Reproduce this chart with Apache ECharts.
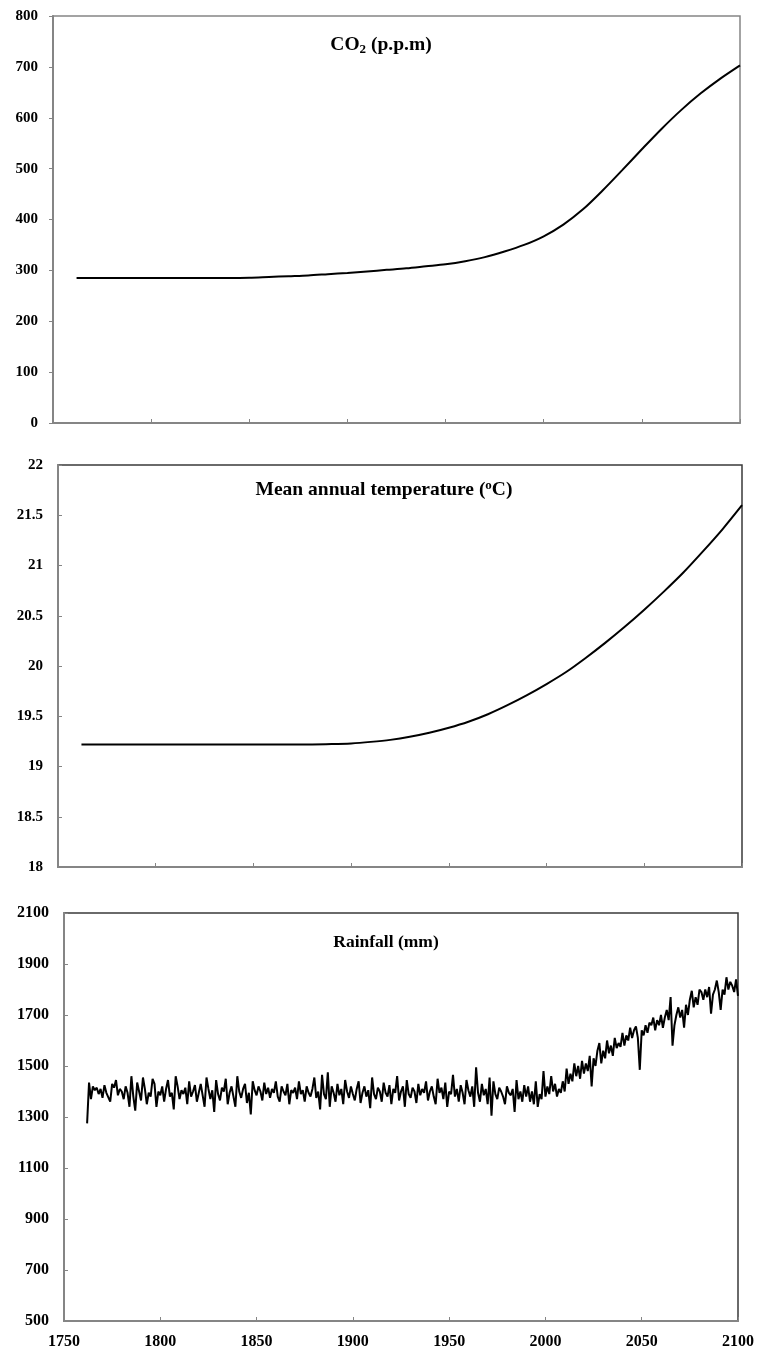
<!DOCTYPE html>
<html>
<head>
<meta charset="utf-8">
<script src="https://cdn.jsdelivr.net/npm/echarts@6/dist/echarts.min.js"></script>
<style>
  html, body { margin: 0; padding: 0; background: #ffffff; }
  #chart { width: 757px; height: 1352px; }
</style>
</head>
<body>
<div id="chart"></div>
<script>
// ---- data ----
const yearTicks = [1750, 1800, 1850, 1900, 1950, 2000, 2050, 2100];

const co2Years  = [1762, 1770, 1780, 1790, 1800, 1810, 1820, 1830, 1840, 1850, 1860, 1870, 1880, 1890, 1900, 1910, 1920, 1930, 1940, 1950, 1960, 1970, 1980, 1990, 2000, 2010, 2020, 2030, 2040, 2050, 2060, 2070, 2080, 2090, 2100];
const co2Values = [285, 285, 285, 285, 285, 285, 285, 285, 285, 285.5, 287, 288.5, 290, 292.5, 295, 298, 301, 304, 308, 312, 318, 326, 337, 350, 367, 390, 420, 457, 497, 538, 578, 615, 648, 677, 703];

const tempYears  = [1762, 1770, 1780, 1790, 1800, 1810, 1820, 1830, 1840, 1850, 1860, 1870, 1880, 1890, 1900, 1910, 1920, 1930, 1940, 1950, 1960, 1970, 1980, 1990, 2000, 2010, 2020, 2030, 2040, 2050, 2060, 2070, 2080, 2090, 2100];
const tempValues = [19.22, 19.22, 19.22, 19.22, 19.22, 19.22, 19.22, 19.22, 19.22, 19.22, 19.22, 19.22, 19.22, 19.223, 19.23, 19.245, 19.265, 19.295, 19.335, 19.385, 19.445, 19.52, 19.61, 19.71, 19.82, 19.94, 20.08, 20.23, 20.39, 20.56, 20.74, 20.93, 21.14, 21.36, 21.60];

// annual rainfall, one value per year from rainStartYear
const rainStartYear = 1762;
const rainValues = [
  1275, 1435, 1370, 1420, 1405, 1415, 1390, 1410, 1375, 1425,
  1395, 1400, 1360, 1430, 1415, 1445, 1385, 1410, 1400, 1370,
  1420, 1395, 1340, 1460, 1380, 1325, 1435, 1400, 1365, 1455,
  1410, 1350, 1395, 1380, 1450, 1430, 1340, 1400, 1385, 1420,
  1360, 1410, 1445, 1380, 1395, 1330, 1460, 1420, 1370, 1405,
  1390, 1415, 1350, 1440, 1380, 1400, 1425, 1360, 1395, 1430,
  1385, 1340, 1455, 1410, 1370, 1405, 1320, 1445, 1390, 1365,
  1415, 1400, 1450, 1350, 1395, 1420, 1380, 1340, 1460, 1400,
  1375, 1410, 1430, 1355, 1395, 1310, 1440, 1405, 1385, 1420,
  1400, 1365, 1435, 1390, 1415, 1375, 1410, 1395, 1440, 1380,
  1360, 1420, 1400, 1385, 1430, 1350, 1405, 1395, 1415, 1370,
  1440, 1390, 1405, 1360, 1420, 1395, 1380, 1410, 1455, 1375,
  1400, 1330, 1465, 1390, 1370, 1475, 1340, 1420, 1395, 1360,
  1430, 1385, 1410, 1350, 1445, 1400, 1375, 1420, 1390, 1365,
  1410, 1440, 1355, 1395, 1420, 1380, 1405, 1335, 1455, 1390,
  1370, 1415, 1400, 1360, 1435, 1395, 1380, 1425, 1350, 1410,
  1395, 1460, 1365, 1400, 1420, 1340, 1445, 1390, 1375, 1415,
  1400, 1355, 1430, 1385, 1410, 1395, 1440, 1365, 1400, 1420,
  1380, 1350, 1450, 1395, 1415, 1370, 1435, 1340, 1400, 1390,
  1465, 1380, 1410, 1360, 1425, 1395, 1350, 1445, 1405, 1380,
  1420, 1340, 1495, 1395, 1360, 1430, 1385, 1410, 1350, 1455,
  1305, 1440, 1390, 1370, 1415, 1400, 1380, 1350, 1420, 1395,
  1385, 1410, 1320, 1445, 1370, 1400, 1360, 1425,
  // 1990 -
  1380, 1420, 1360, 1400, 1350, 1440, 1340, 1390, 1370, 1480,
  // 2000 -
  1380, 1420, 1390, 1460, 1400, 1430, 1380, 1410, 1395, 1440,
  1400, 1490, 1430, 1470, 1440, 1510, 1460, 1500, 1450, 1520,
  1470, 1510, 1480, 1540, 1420, 1530, 1500, 1560, 1590, 1510,
  1560, 1530, 1600, 1550, 1580, 1540, 1610, 1570, 1590, 1575,
  1630, 1580, 1620, 1600, 1650, 1610, 1640, 1655, 1610, 1485,
  // 2050 -
  1640, 1620, 1660, 1630, 1670, 1660, 1690, 1640, 1680, 1660,
  1700, 1650, 1690, 1720, 1680, 1770, 1580, 1660, 1700, 1730,
  1690, 1720, 1650, 1740, 1700, 1760, 1795, 1730, 1770, 1740,
  1800, 1790, 1760, 1800, 1770, 1810, 1705, 1780, 1800, 1835,
  1790, 1720, 1800, 1780, 1848, 1800, 1830, 1815, 1790, 1840,
  1775
];

// ---- styling helpers ----
const FONT = '"Liberation Serif", "Times New Roman", serif';
const AXIS_GREY = '#858585';

function pairs(xs, ys) { return xs.map((x, i) => [x, ys[i]]); }
const rainData = rainValues.map((v, i) => [rainStartYear + i, v]);
const plainNumber = v => String(v);

function xAxisFor(gridIndex, showLabels) {
  return {
    type: 'value', gridIndex,
    min: yearTicks[0], max: yearTicks[yearTicks.length - 1], interval: 50,
    axisLine: { show: true, onZero: false, lineStyle: { color: AXIS_GREY, width: 2 } },
    axisTick: { show: true, inside: true, length: 4, lineStyle: { color: AXIS_GREY, width: 1 } },
    axisLabel: {
      show: showLabels, margin: 13, color: '#000', formatter: plainNumber,
      fontFamily: FONT, fontWeight: 'bold', fontSize: 16
    },
    splitLine: { show: false }
  };
}

function yAxisFor(gridIndex, min, max, interval, tickInside, fontSize) {
  return {
    type: 'value', gridIndex, min, max, interval,
    axisLine: { show: true, onZero: false, lineStyle: { color: AXIS_GREY, width: 2 } },
    axisTick: { show: true, inside: tickInside, length: 4, lineStyle: { color: AXIS_GREY, width: 1 } },
    axisLabel: {
      margin: 15, color: '#000', formatter: plainNumber,
      fontFamily: FONT, fontWeight: 'bold', fontSize
    },
    splitLine: { show: false }
  };
}

function lineSeries(idx, data, smooth) {
  return {
    type: 'line', xAxisIndex: idx, yAxisIndex: idx, data,
    showSymbol: false, smooth: smooth ? 0.3 : false,
    lineStyle: { color: '#000', width: 2 }, silent: true, animation: false
  };
}

function titleStyle(size) {
  const base = { color: '#000', fontFamily: FONT, fontWeight: 'bold' };
  const small = Math.round(size * 0.66);
  return Object.assign({}, base, {
    fontSize: size,
    rich: {
      sub: Object.assign({}, base, { fontSize: small, lineHeight: 9, verticalAlign: 'bottom' }),
      sup: Object.assign({}, base, { fontSize: small, lineHeight: 9, verticalAlign: 'top' }),
      n:   Object.assign({}, base, { fontSize: size, lineHeight: 22 })
    }
  });
}

function panelTitle(text, centerX, centerY, size) {
  return { text, left: centerX, top: centerY - 11, padding: 0, textAlign: 'center', textStyle: titleStyle(size) };
}

const option = {
  backgroundColor: '#ffffff',
  animation: false,
  title: [
    panelTitle('{n|CO}{sub|2}{n| (p.p.m)}', 381, 45, 19.5),
    panelTitle('{n|Mean annual temperature (}{sup|o}{n|C)}', 384, 490, 19.5),
    panelTitle('{n|Rainfall (mm)}', 386, 942, 17.5)
  ],
  grid: [
    { left: 53, top: 16, width: 687, height: 407, show: true, borderColor: AXIS_GREY, borderWidth: 1.5, backgroundColor: 'transparent' },
    { left: 58, top: 465, width: 684, height: 402, show: true, borderColor: '#3a3a3a', borderWidth: 1.5, backgroundColor: 'transparent' },
    { left: 64, top: 913, width: 674, height: 408, show: true, borderColor: '#3a3a3a', borderWidth: 1.5, backgroundColor: 'transparent' }
  ],
  xAxis: [xAxisFor(0, false), xAxisFor(1, false), xAxisFor(2, true)],
  yAxis: [
    yAxisFor(0, 0, 800, 100, false, 15),
    yAxisFor(1, 18, 22, 0.5, true, 15),
    yAxisFor(2, 500, 2100, 200, true, 16)
  ],
  series: [
    lineSeries(0, pairs(co2Years, co2Values), true),
    lineSeries(1, pairs(tempYears, tempValues), true),
    lineSeries(2, rainData, false)
  ]
};

const chart = echarts.init(document.getElementById('chart'), null, { renderer: 'canvas' });
chart.setOption(option);
</script>
</body>
</html>
